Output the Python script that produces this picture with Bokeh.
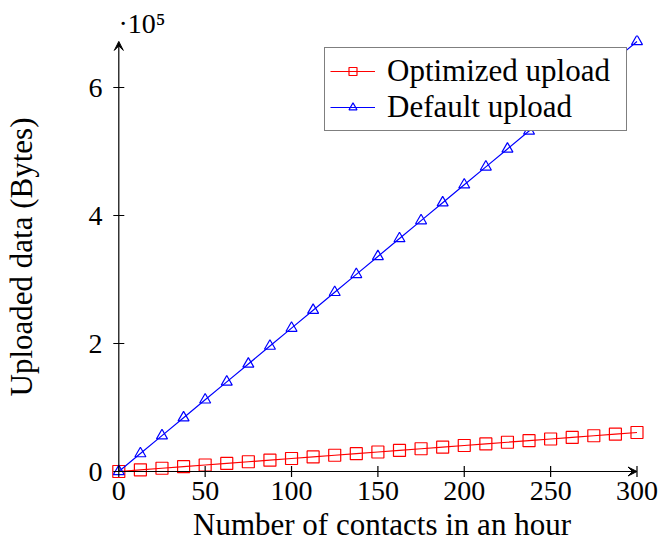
from bokeh.plotting import figure
from bokeh.models import (Range1d, FixedTicker, Arrow, VeeHead, Legend,
                          LegendItem, Title)
from bokeh.embed import file_html
from bokeh.resources import INLINE

# ---------------- data ----------------
contacts = [0, 12.5, 25, 37.5, 50, 62.5, 75, 87.5, 100, 112.5, 125, 137.5, 150,
            162.5, 175, 187.5, 200, 212.5, 225, 237.5, 250, 262.5, 275, 287.5, 300]
optimized_upload = [0, 2540, 5080, 7610, 10150, 12690, 15230, 17760, 20300, 22840,
                    25380, 27910, 30450, 32990, 35530, 38060, 40600, 43140, 45680,
                    48210, 50750, 53290, 55830, 58360, 60900]
default_upload = [0, 28000, 56000, 84000, 112000, 140000, 168000, 196000, 224000,
                  252000, 280000, 308000, 336000, 364000, 392000, 420000, 448000,
                  476000, 504000, 532000, 560000, 588000, 616000, 644000, 672000]
x_ticks = [0, 50, 100, 150, 200, 250, 300]
y_ticks = [0, 200000, 400000, 600000]
y_tick_labels = ["0", "2", "4", "6"]
scale_label = "·10⁵"
series_names = ["Optimized upload", "Default upload"]
x_label = "Number of contacts in an hour"
y_label = "Uploaded data (Bytes)"

# ---------------- layout constants ----------------
W, H = 660, 544
PX_X = 1.7273          # pixels per x unit
PX_Y = 64.0 / 1e5      # pixels per y unit
X_ORIGIN_PX, Y_ORIGIN_PX = 118.3, 471.0
FRAME_L, FRAME_R, FRAME_T, FRAME_B = 108, 655, 35, 478
X0 = (FRAME_L - X_ORIGIN_PX) / PX_X
X1 = (FRAME_R - X_ORIGIN_PX) / PX_X
Y0 = (Y_ORIGIN_PX - FRAME_B) / PX_Y
Y1 = (Y_ORIGIN_PX - FRAME_T) / PX_Y
SERIF = "Liberation Serif"
TICK_FS = "28px"
LAB_FS = "31px"
LW = 1.2

p = figure(width=W, height=H, x_range=Range1d(X0, X1), y_range=Range1d(Y0, Y1),
           output_backend="svg", toolbar_location=None,
           min_border_left=FRAME_L, min_border_right=W - FRAME_R,
           min_border_top=FRAME_T, min_border_bottom=H - FRAME_B)
p.title = Title(text=scale_label, align="left", offset=10, standoff=-6,
                text_font=SERIF, text_font_size=TICK_FS, text_font_style="normal",
                text_color="black")
p.outline_line_color = None
p.xgrid.visible = False
p.ygrid.visible = False
p.background_fill_color = "white"
p.border_fill_color = "white"

for ax in (p.xaxis[0], p.yaxis[0]):
    ax.axis_line_color = None
    ax.major_tick_line_color = None
    ax.minor_tick_line_color = None
    ax.major_tick_out = 0
    ax.major_tick_in = 0
    ax.major_label_text_font = SERIF
    ax.major_label_text_font_size = TICK_FS
    ax.major_label_text_color = "black"
    ax.axis_label_text_font = SERIF
    ax.axis_label_text_font_size = LAB_FS
    ax.axis_label_text_font_style = "normal"
    ax.axis_label_text_color = "black"

p.xaxis.ticker = FixedTicker(ticks=x_ticks)
p.xaxis.major_label_standoff = 3
p.xaxis.axis_label = x_label
p.xaxis.axis_label_standoff = 4
p.yaxis.ticker = FixedTicker(ticks=y_ticks)
p.yaxis.major_label_overrides = {v: t for v, t in zip(y_ticks, y_tick_labels)}
p.yaxis.major_label_standoff = 6
p.yaxis.axis_label = y_label
p.yaxis.axis_label_standoff = 47

# ---------------- series ----------------
red_line = p.line(contacts, optimized_upload, line_color="red", line_width=LW)
red_pts = p.scatter(contacts, optimized_upload, marker="square", size=12,
                    line_color="red", fill_color=None, line_width=LW)
blue_line = p.line(contacts, default_upload, line_color="blue", line_width=LW)
blue_pts = p.scatter(contacts, default_upload, marker="triangle", size=11,
                     line_color="blue", fill_color=None, line_width=LW)

# ---------------- axis lines with arrows and crossing ticks ----------------
x_max = max(contacts)
y_max = max(default_upload)
tick_half_y = 5.5 / PX_Y
tick_half_x = 5.5 / PX_X
p.segment(x0=x_ticks, y0=[-tick_half_y] * len(x_ticks), x1=x_ticks,
          y1=[tick_half_y] * len(x_ticks), line_color="black", line_width=LW)
p.segment(x0=[-tick_half_x] * len(y_ticks), y0=y_ticks,
          x1=[tick_half_x] * len(y_ticks), y1=y_ticks, line_color="black", line_width=LW)
p.add_layout(Arrow(end=VeeHead(size=9, fill_color="black", line_color="black", line_width=1),
                   x_start=0, y_start=0, x_end=x_max, y_end=0,
                   line_color="black", line_width=LW))
p.add_layout(Arrow(end=VeeHead(size=9, fill_color="black", line_color="black", line_width=1),
                   x_start=0, y_start=0, x_end=0, y_end=y_max,
                   line_color="black", line_width=LW))

# ---------------- legend ----------------
legend = Legend(items=[LegendItem(label=series_names[0], renderers=[red_line, red_pts]),
                       LegendItem(label=series_names[1], renderers=[blue_line, blue_pts])],
                location=(324 - FRAME_L, FRAME_B - 131), orientation="vertical",
                border_line_color="black", border_line_width=LW,
                background_fill_color="white", background_fill_alpha=1.0,
                padding=5, spacing=0, margin=0,
                glyph_width=45, glyph_height=20, label_standoff=12, label_width=234,
                label_text_font=SERIF, label_text_font_size=LAB_FS,
                label_text_color="black")
p.add_layout(legend)

open("out.html", "w").write(file_html(p, INLINE))
